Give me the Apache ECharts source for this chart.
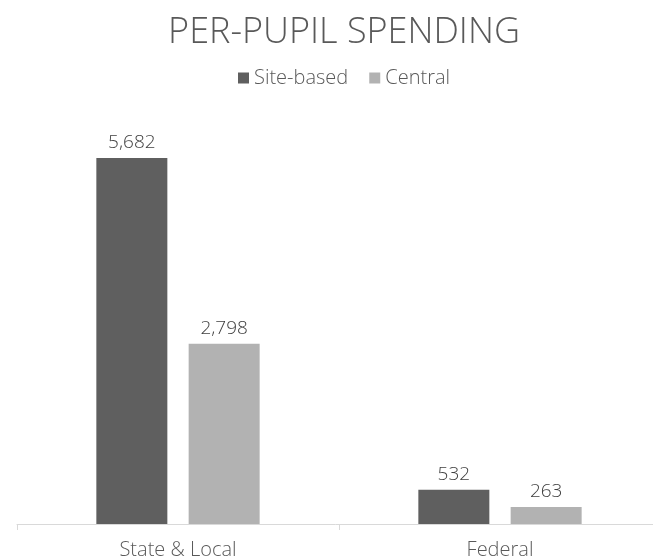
<!DOCTYPE html>
<html><head><meta charset="utf-8">
<script src="https://cdn.jsdelivr.net/npm/echarts@6/dist/echarts.min.js"></script>
<style>html,body{margin:0;padding:0;background:#fff}#c{width:653px;height:559px}</style>
</head><body><div id="c"></div>
<script>
const categories = ['State & Local', 'Federal'];
const siteBased = [5682, 532];
const central = [2798, 263];
const seriesNames = ['Site-based', 'Central'];

const font = '"Open Sans", "Noto Sans", sans-serif';
const chart = echarts.init(document.getElementById('c'));
const lbl = {show: true, position: 'top', distance: 6, color: '#404040', fontSize: 19, fontWeight: 300, fontFamily: font,
  formatter: p => p.value.toLocaleString('en-US')};
chart.setOption({
  animation: false,
  title: {text: 'PER-PUPIL SPENDING', left: 339, textAlign: 'center', top: 10,
    textStyle: {color: '#595959', fontSize: 36, fontWeight: 300, fontFamily: font}},
  legend: {data: seriesNames, top: 63, left: 233, itemWidth: 11, itemHeight: 11, itemGap: 21,
    icon: 'rect', textStyle: {color: '#595959', fontSize: 20, fontWeight: 300, fontFamily: font}},
  grid: {left: 17, width: 644, top: 137.6, height: 386.4, outerBoundsMode: 'none', containLabel: false},
  xAxis: {type: 'category', data: categories,
    axisLine: {lineStyle: {color: '#d9d9d9'}},
    axisTick: {show: true, length: 6, lineStyle: {color: '#d9d9d9'}},
    axisLabel: {color: '#595959', fontSize: 20, fontWeight: 300, fontFamily: font, margin: 16}},
  yAxis: {type: 'value', min: 0, max: 6000, show: false, splitLine: {show: false}},
  series: [
    {name: seriesNames[0], type: 'bar', data: siteBased, barWidth: 71, barGap: '30%',
      itemStyle: {color: '#5f5f5f'}, label: lbl},
    {name: seriesNames[1], type: 'bar', data: central, barWidth: 71,
      itemStyle: {color: '#b2b2b2'}, label: lbl}
  ]
});
</script></body></html>
